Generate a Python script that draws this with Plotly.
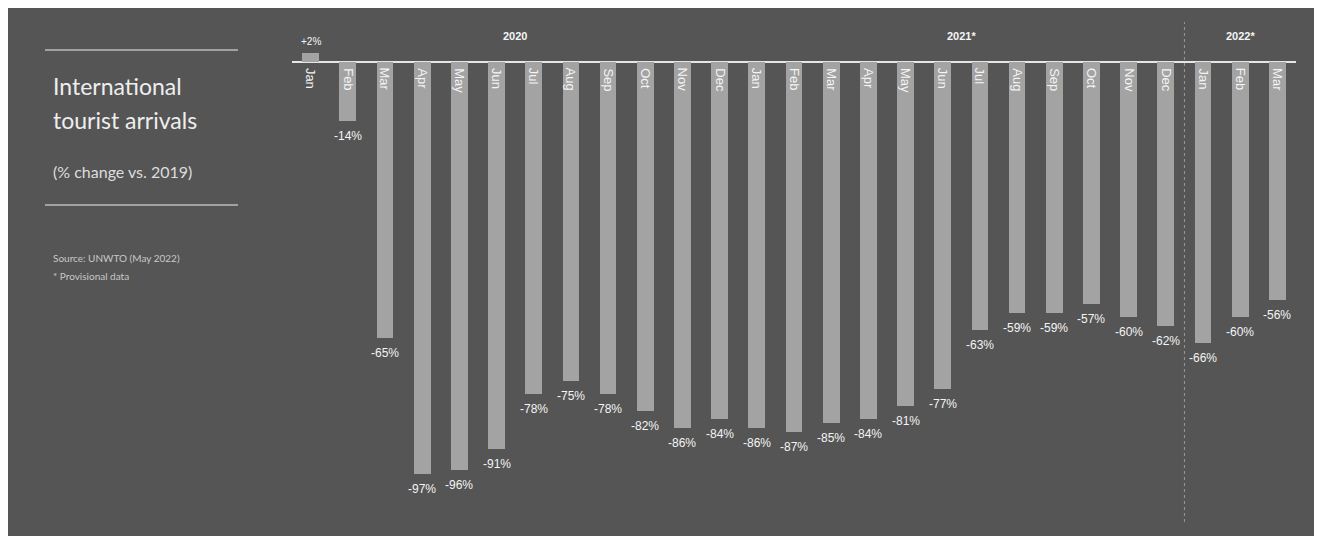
import plotly.graph_objects as go

months = ["Jan", "Feb", "Mar", "Apr", "May", "Jun", "Jul", "Aug", "Sep", "Oct", "Nov", "Dec",
          "Jan", "Feb", "Mar", "Apr", "May", "Jun", "Jul", "Aug", "Sep", "Oct", "Nov", "Dec",
          "Jan", "Feb", "Mar"]
values = [2, -14, -65, -97, -96, -91, -78, -75, -78, -82, -86, -84,
          -86, -87, -85, -84, -81, -77, -63, -59, -59, -57, -60, -62,
          -66, -60, -56]
value_labels = ["+2%", "-14%", "-65%", "-97%", "-96%", "-91%", "-78%", "-75%", "-78%", "-82%", "-86%", "-84%",
                "-86%", "-87%", "-85%", "-84%", "-81%", "-77%", "-63%", "-59%", "-59%", "-57%", "-60%", "-62%",
                "-66%", "-60%", "-56%"]
year_labels = ["2020", "2021*", "2022*"]
year_positions = [5.5, 17.5, 25]
year_divider = 23.5

x = list(range(len(months)))

BG = "#555555"
BAR = "#a3a3a3"
TXT = "#f4f4f4"

W, H = 1322, 536
pl, pr = 284, 1288

fig = go.Figure()
fig.add_trace(go.Bar(x=x, y=values, marker=dict(color=BAR, line=dict(width=0)),
                     width=0.45, hoverinfo="skip"))

annotations = []
for xi, v, t in zip(x, values, value_labels):
    if v < 0:
        annotations.append(dict(x=xi, y=v, xref="x", yref="y", text=t, showarrow=False,
                                yanchor="top", yshift=-6,
                                font=dict(color=TXT, size=12, family="Liberation Sans")))
    else:
        annotations.append(dict(x=xi, y=v, xref="x", yref="y", text=t, showarrow=False,
                                yanchor="bottom", yshift=4,
                                font=dict(color=TXT, size=10, family="Liberation Sans")))
for xi, m in zip(x, months):
    annotations.append(dict(x=xi, y=0, xref="x", yref="y", text=m, showarrow=False, textangle=90,
                            yanchor="top", yshift=-4,
                            font=dict(color=TXT, size=13, family="Liberation Sans")))
for yp, yl in zip(year_positions, year_labels):
    annotations.append(dict(x=yp, y=6.2, xref="x", yref="y", text="<b>" + yl + "</b>", showarrow=False,
                            font=dict(color=TXT, size=11, family="Liberation Sans")))

fig.update_layout(
    width=W, height=H,
    margin=dict(l=pl, r=W - pr, t=0, b=0),
    paper_bgcolor=BG, plot_bgcolor=BG,
    showlegend=False,
    bargap=0,
    xaxis=dict(range=[-0.5, 26.5], showgrid=False, showticklabels=False, zeroline=False, showline=False),
    yaxis=dict(range=[-113.4, 12.7], showgrid=False, showticklabels=False, zeroline=True,
               zerolinecolor="#e6e6e6", zerolinewidth=1.5, showline=False),
    annotations=annotations,
)


def px(v):
    return (v - pl) / (pr - pl)


def py(v):
    return 1 - v / H


shapes = [
    dict(type="line", xref="paper", yref="paper", x0=px(37), x1=px(230), y0=py(42), y1=py(42),
         line=dict(color="#bdbdbd", width=1.5)),
    dict(type="line", xref="paper", yref="paper", x0=px(37), x1=px(230), y0=py(197), y1=py(197),
         line=dict(color="#bdbdbd", width=1.5)),
    dict(type="line", xref="x", yref="paper", x0=year_divider, x1=year_divider, y0=py(514), y1=py(14),
         line=dict(color="#9a9a9a", width=1, dash="dot")),
]
fig.update_layout(shapes=shapes)

left_text = [
    ("International", 78, 23, "#eeeeee"),
    ("tourist arrivals", 112, 23, "#eeeeee"),
    ("(% change vs. 2019)", 163, 16, "#dddddd"),
    ("Source: UNWTO (May 2022)", 250, 10, "#c8c8c8"),
    ("* Provisional data", 268, 10, "#c8c8c8"),
]
for t, yy, sz, col in left_text:
    fig.add_annotation(x=px(43), y=py(yy), xref="paper", yref="paper", text=t, showarrow=False,
                       xanchor="left", yanchor="middle",
                       font=dict(color=col, size=sz, family="Lato"))

fig.write_html("out.html")
